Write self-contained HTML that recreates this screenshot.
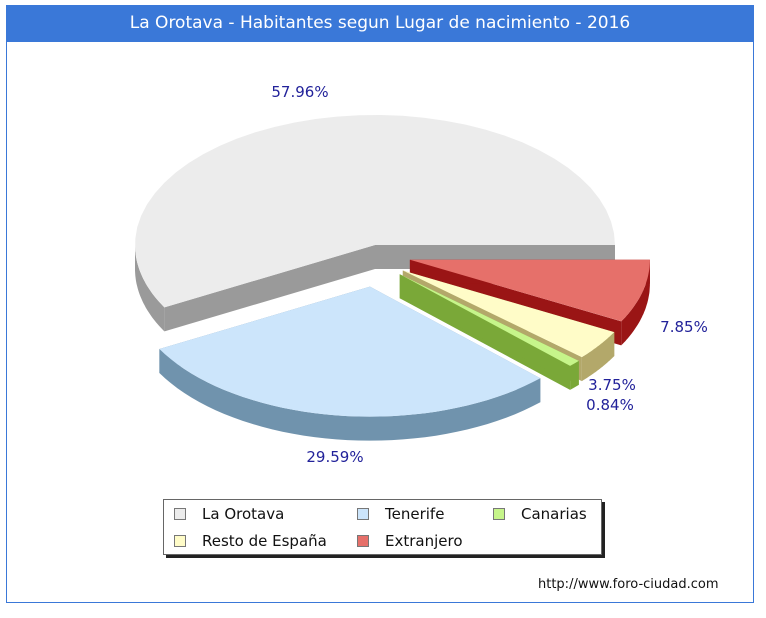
<!DOCTYPE html>
<html><head><meta charset="utf-8"><style>
body{margin:0;background:#fff;width:766px;height:618px;overflow:hidden;font-family:"DejaVu Sans","Liberation Sans",sans-serif;}
#frame{position:absolute;left:6px;top:5px;width:748px;height:598px;border:1px solid #3a78d8;box-sizing:border-box;}
#title{position:absolute;left:6px;top:5px;width:748px;height:37px;background:#3a78d8;color:#fff;font-size:17px;line-height:37px;text-align:center;}
#legend{position:absolute;left:163px;top:499px;width:437px;height:54px;border:1px solid #666;background:#fff;box-shadow:3px 3px 0 #222;font-size:15px;color:#111;}
.li{position:absolute;height:20px;line-height:20px;}
.sw{display:inline-block;width:10px;height:10px;border:1px solid #777;margin-right:16px;vertical-align:-1px;}
#url{position:absolute;left:538px;top:577px;font-size:13px;color:#111;}
</style></head><body>
<div id="frame"></div>
<div id="title">La Orotava - Habitantes segun Lugar de nacimiento - 2016</div>
<svg id="pie" width="766" height="618" style="position:absolute;left:0;top:0"></svg>
<div id="legend">
<div class="li" style="left:10px;top:4px"><span class="sw" style="background:#ececec"></span>La Orotava</div>
<div class="li" style="left:193px;top:4px"><span class="sw" style="background:#cce5fb"></span>Tenerife</div>
<div class="li" style="left:329px;top:4px"><span class="sw" style="background:#c6f58a"></span>Canarias</div>
<div class="li" style="left:10px;top:31px"><span class="sw" style="background:#fffcc8"></span>Resto de España</div>
<div class="li" style="left:193px;top:31px"><span class="sw" style="background:#e6706a"></span>Extranjero</div>
</div>
<div id="url">http://www.foro-ciudad.com</div>
<script>
const categories=["La Orotava","Tenerife","Canarias","Resto de España","Extranjero"];
const values=[57.96,29.59,0.84,3.75,7.85];
const labels=["57.96%","29.59%","0.84%","3.75%","7.85%"];
const topColors=["#ececec","#cce5fb","#c6f58a","#fffcc8","#e6706a"];
const sideColors=["#9a9a9a","#7093ad","#7aa838","#b3a86a","#9a1515"];
const svg=document.getElementById('pie');
const NS="http://www.w3.org/2000/svg";
const cx=375,cy=245,rx=240,ry=130,depth=24,expl=[0,36,34,34,36];
const total=values.reduce((a,b)=>a+b,0);
function pt(ox,oy,a,dy){return [ox+rx*Math.cos(a),oy-ry*Math.sin(a)+(dy||0)];}
function mk(d,fill,name){const p=document.createElementNS(NS,'path');p.setAttribute('d',d);p.setAttribute('fill',fill);


svg.appendChild(p);return p;}
function arcPath(ox,oy,a1,a2,dy,rev){let s="";const n=40;for(let i=0;i<=n;i++){const t=rev?a2-(a2-a1)*i/n:a1+(a2-a1)*i/n;const q=pt(ox,oy,t,dy);s+=(i?"L":"")+q[0].toFixed(1)+","+q[1].toFixed(1);}return s;}
let start=0;const slices=[];
values.forEach((v,i)=>{const sweep=v/total*2*Math.PI;const a1=start,a2=start+sweep;start=a2;
const mid=(a1+a2)/2;const ox=cx+expl[i]*Math.cos(mid),oy=cy-expl[i]*Math.sin(mid)+(i>0?6:0);slices.push({i,a1,a2,mid,ox,oy});});
const order=[...slices].sort((a,b)=>Math.sin(b.mid)-Math.sin(a.mid));
order.forEach(s=>{const {i,a1,a2,ox,oy}=s;const nm=categories[i].toLowerCase().replace(/[^a-z]+/g,'-');
[a1,a2].forEach((a,k)=>{const p=pt(ox,oy,a);mk(`M${ox},${oy}L${p[0]},${p[1]}L${p[0]},${p[1]+depth}L${ox},${oy+depth}Z`,sideColors[i],'slice-wall-'+nm);});
const lo=Math.max(a1,Math.PI),hi=Math.min(a2,2*Math.PI);
if(hi>lo){mk("M"+arcPath(ox,oy,lo,hi,0,false)+"L"+arcPath(ox,oy,lo,hi,depth,true)+"Z",sideColors[i],'slice-side-'+nm);}
mk(`M${ox},${oy}L`+arcPath(ox,oy,a1,a2,0,false)+"Z",topColors[i],'slice-'+nm);
});
const lp=[[300,97],[335,462],[610,410],[612,390],[684,332]];
labels.forEach((t,i)=>{const e=document.createElementNS(NS,'text');e.setAttribute('x',lp[i][0]);e.setAttribute('y',lp[i][1]);
e.setAttribute('text-anchor','middle');e.setAttribute('font-size','15');e.setAttribute('fill','#22229a');
e.setAttribute('font-family','DejaVu Sans, Liberation Sans, sans-serif');e.textContent=t;


svg.appendChild(e);});
</script>
</body></html>
